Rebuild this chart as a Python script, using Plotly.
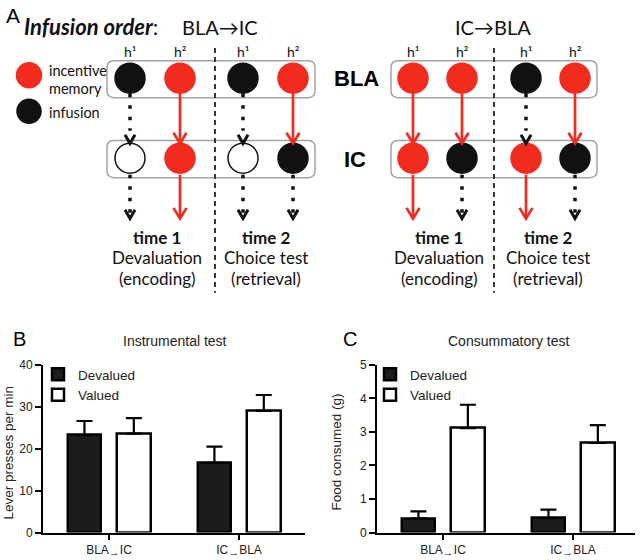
import plotly.graph_objects as go

# ---------------- Data ----------------
groups = ["BLA→IC", "IC→BLA"]
group_ticktext = ["BLA<sub><span style='font-size:11px'>→</span></sub>IC",
                  "IC<sub><span style='font-size:11px'>→</span></sub>BLA"]
conditions = ["Devalued", "Valued"]

lever_devalued = [23.2, 16.6]
lever_devalued_sem = [3.4, 3.9]
lever_valued = [23.6, 29.0]
lever_valued_sem = [3.7, 3.8]

food_devalued = [0.42, 0.43]
food_devalued_sem = [0.21, 0.25]
food_valued = [3.11, 2.67]
food_valued_sem = [0.70, 0.53]

lever_ticks = [0, 10, 20, 30, 40]
food_ticks = [0, 1, 2, 3, 4, 5]

# Panel A schematic content
infusion_orders = ["BLA→IC", "IC→BLA"]
time_labels = ["time 1", "time 2"]
time_tasks = ["Devaluation", "Choice test"]
time_phases = ["(encoding)", "(retrieval)"]
outcome_labels = ["h¹", "h²", "h¹", "h²"]
bla_states = [["infusion", "memory", "infusion", "memory"],
              ["memory", "memory", "infusion", "memory"]]
ic_states = [["none", "memory", "none", "infusion"],
             ["memory", "infusion", "memory", "infusion"]]
legend_states = ["memory", "infusion"]
legend_texts = [["incentive", "memory"], ["infusion"]]

# ---------------- Styles / layout ----------------
W, H = 640, 560
RED = "#f22b1f"
BLACK = "#111111"
ARIAL = "Liberation Sans, Arial, sans-serif"
CAL = "Lato, Carlito, sans-serif"
TXT = "#222222"
fill_of = {"memory": RED, "infusion": BLACK, "none": "white"}
edge_of = {"memory": RED, "infusion": BLACK, "none": BLACK}

col_x = [[130, 180, 243, 293], [413, 462, 526, 575]]
box_x = [(107, 315), (391, 597)]
divider_x = [215, 494]
order_label_x = [220, 493]
time_text_x = [[157, 266], [439, 548]]
Y_BLA, Y_IC, R = 73, 155, 15
Y_OUT_TIP = 217
A_TOP = 308  # panel A axis covers pixel rows 0..308


def px(x):
    return x / W


def py(y):
    return 1 - y / H


fig = go.Figure()

# ---------------- Panel B & C bars ----------------
BAR_W = 0.258
OFF_DEV, OFF_VAL = -0.318, 0.062
err_style = dict(type="data", symmetric=False, color="black", thickness=2.2, width=8)

panels = [
    ("x", "y", "legend", lever_devalued, lever_devalued_sem, lever_valued, lever_valued_sem),
    ("x2", "y2", "legend2", food_devalued, food_devalued_sem, food_valued, food_valued_sem),
]
for xa, ya, lg, dv, dvs, vv, vvs in panels:
    fig.add_trace(go.Bar(
        x=[0, 1], y=dv, name=conditions[0], xaxis=xa, yaxis=ya, legend=lg,
        width=BAR_W, offset=OFF_DEV,
        marker=dict(color="#1c1c1c", line=dict(color="black", width=2.5)),
        error_y=dict(array=dvs, arrayminus=[0, 0], **err_style),
        hoverinfo="skip"))
    fig.add_trace(go.Bar(
        x=[0, 1], y=vv, name=conditions[1], xaxis=xa, yaxis=ya, legend=lg,
        width=BAR_W, offset=OFF_VAL,
        marker=dict(color="white", line=dict(color="black", width=2.5)),
        error_y=dict(array=vvs, arrayminus=[0, 0], **err_style),
        hoverinfo="skip"))

axis_common = dict(showline=True, linecolor="black", linewidth=2, ticks="outside",
                   tickwidth=2, tickcolor="black", showgrid=False, zeroline=False,
                   tickfont=dict(family=ARIAL, size=12, color=TXT), fixedrange=True)
plot_bottom, plot_top = 539, 367
ydom = [py(plot_bottom), py(plot_top)]

fig.update_layout(
    xaxis=dict(domain=[px(43), px(305)], range=[-0.508, 1.508], tickvals=[0, 1],
               ticktext=group_ticktext, ticklen=5, anchor="y", **axis_common),
    yaxis=dict(domain=ydom, range=[0, 40], tickvals=lever_ticks, ticklen=6,
               anchor="x", **axis_common),
    xaxis2=dict(domain=[px(377), px(635)], range=[-0.508, 1.477], tickvals=[0, 1],
                ticktext=group_ticktext, ticklen=5, anchor="y2", **axis_common),
    yaxis2=dict(domain=ydom, range=[0, 5], tickvals=food_ticks, ticklen=6,
                anchor="x2", **axis_common),
    xaxis3=dict(domain=[0, 1], range=[0, W], visible=False, fixedrange=True, anchor="y3"),
    yaxis3=dict(domain=[py(A_TOP), 1], range=[A_TOP, 0], visible=False, fixedrange=True,
                anchor="x3"),
)

leg_common = dict(xanchor="left", yanchor="top", bgcolor="rgba(0,0,0,0)",
                  font=dict(family=ARIAL, size=13.5, color=TXT), tracegroupgap=0,
                  itemclick=False, itemdoubleclick=False)
fig.update_layout(
    legend=dict(x=px(38), y=py(361), **leg_common),
    legend2=dict(x=px(370), y=py(361), **leg_common),
)

# ---------------- Panel A schematic ----------------
cx, cy, cfill, cedge, csize = [], [], [], [], []
for o in range(2):
    for c in range(4):
        for yy, st in ((Y_BLA, bla_states[o][c]), (Y_IC, ic_states[o][c])):
            cx.append(col_x[o][c]); cy.append(yy)
            cfill.append(fill_of[st]); cedge.append(edge_of[st]); csize.append(2 * R)
# legend circles
for yy, st, sz in zip([70, 107], legend_states, [25, 24]):
    cx.append(29); cy.append(yy); cfill.append(fill_of[st]); cedge.append(edge_of[st]); csize.append(sz)

fig.add_trace(go.Scatter(
    x=cx, y=cy, mode="markers", xaxis="x3", yaxis="y3", showlegend=False,
    hoverinfo="skip", cliponaxis=False,
    marker=dict(size=csize, color=cfill, opacity=1, line=dict(color=cedge, width=1.5))))

shapes = []


def rrect(x0, y0, x1, y1, r):
    return (f"M{x0+r},{y0} L{x1-r},{y0} Q{x1},{y0} {x1},{y0+r} L{x1},{y1-r} "
            f"Q{x1},{y1} {x1-r},{y1} L{x0+r},{y1} Q{x0},{y1} {x0},{y1-r} "
            f"L{x0},{y0+r} Q{x0},{y0} {x0+r},{y0} Z")


for (bx0, bx1) in box_x:
    for yy in (Y_BLA, Y_IC):
        shapes.append(dict(type="path", xref="x3", yref="y3", layer="below",
                           path=rrect(bx0, yy - 18, bx1, yy + 20, 7),
                           line=dict(color="#a3a3a3", width=1.5)))

for dx in divider_x:
    shapes.append(dict(type="line", xref="x3", yref="y3", x0=dx, x1=dx, y0=42, y1=293,
                       line=dict(color="#222", width=1.8, dash="5px,4px")))


def arrow(x, y0, tip, active, dot_into_head=False):
    if active:
        shapes.append(dict(type="line", xref="x3", yref="y3", x0=x, x1=x, y0=y0, y1=tip - 1,
                           line=dict(color=RED, width=2.7)))
        shapes.append(dict(type="path", xref="x3", yref="y3",
                           path=f"M{x-6.5},{tip-11} L{x},{tip} L{x+6.5},{tip-11}",
                           line=dict(color=RED, width=2.7)))
    else:
        end = tip - 6 if dot_into_head else tip - 13
        shapes.append(dict(type="line", xref="x3", yref="y3", x0=x, x1=x, y0=y0, y1=end,
                           line=dict(color=BLACK, width=3.5, dash="3.5px,8px")))
        shapes.append(dict(type="path", xref="x3", yref="y3",
                           path=f"M{x-5},{tip-9} L{x},{tip} L{x+5},{tip-9}",
                           line=dict(color=BLACK, width=3)))


for o in range(2):
    for c in range(4):
        x = col_x[o][c]
        arrow(x, Y_BLA + R + 1, Y_IC - R, bla_states[o][c] == "memory")
        arrow(x, Y_IC + R + 2, Y_OUT_TIP, ic_states[o][c] == "memory", dot_into_head=True)

ann = []


def text(x, y, t, size, family=CAL, xanchor="center", color="#111", ref="x3", angle=0):
    ann.append(dict(x=x, y=y, xref=ref, yref=("y3" if ref == "x3" else "paper"), text=t,
                    showarrow=False, xanchor=xanchor, yanchor="middle", textangle=angle,
                    font=dict(family=family, size=size, color=color)))


text(13, 9, "A", 21, family=ARIAL, color="black")
text(22, 20, "<b><i>Infusion order</i></b>:", 22, xanchor="left")
for o in range(2):
    text(order_label_x[o], 21, infusion_orders[o], 20)
    for c in range(4):
        text(col_x[o][c], 46, outcome_labels[c], 14)
    for t in range(2):
        tx = time_text_x[o][t]
        text(tx, 236, f"<b>{time_labels[t]}</b>", 17)
        text(tx, 257, time_tasks[t], 17)
        text(tx, 278, time_phases[t], 17)

text(356, 73, "<b>BLA</b>", 22, family=ARIAL, color="black")
text(355, 156, "<b>IC</b>", 22, family=ARIAL, color="black")
text(47, 65, legend_texts[0][0], 14.5, xanchor="left")
text(47, 84, legend_texts[0][1], 14.5, xanchor="left")
text(47, 108, legend_texts[1][0], 14.5, xanchor="left")

# panel letters and titles for B / C (paper coords)
text(px(19), py(341), "B", 20, family=ARIAL, color="black", ref="paper")
text(px(350), py(341), "C", 20, family=ARIAL, color="black", ref="paper")
text(px(175), py(343), "Instrumental test", 14, family=ARIAL, color=TXT, ref="paper")
text(px(508), py(343), "Consummatory test", 14, family=ARIAL, color=TXT, ref="paper")
text(px(9), py(457), "Lever presses per min", 13.5, family=ARIAL, color=TXT, ref="paper", angle=-90)
text(px(337), py(457), "Food consumed (g)", 13.5, family=ARIAL, color=TXT, ref="paper", angle=-90)

fig.update_layout(
    width=W, height=H, margin=dict(l=0, r=0, t=0, b=0),
    paper_bgcolor="white", plot_bgcolor="rgba(0,0,0,0)",
    shapes=shapes, annotations=ann, bargap=0, showlegend=True,
)

fig.write_html("out.html", config={"displayModeBar": False},
               post_script="document.body.style.margin='0';document.body.style.overflow='hidden';")
